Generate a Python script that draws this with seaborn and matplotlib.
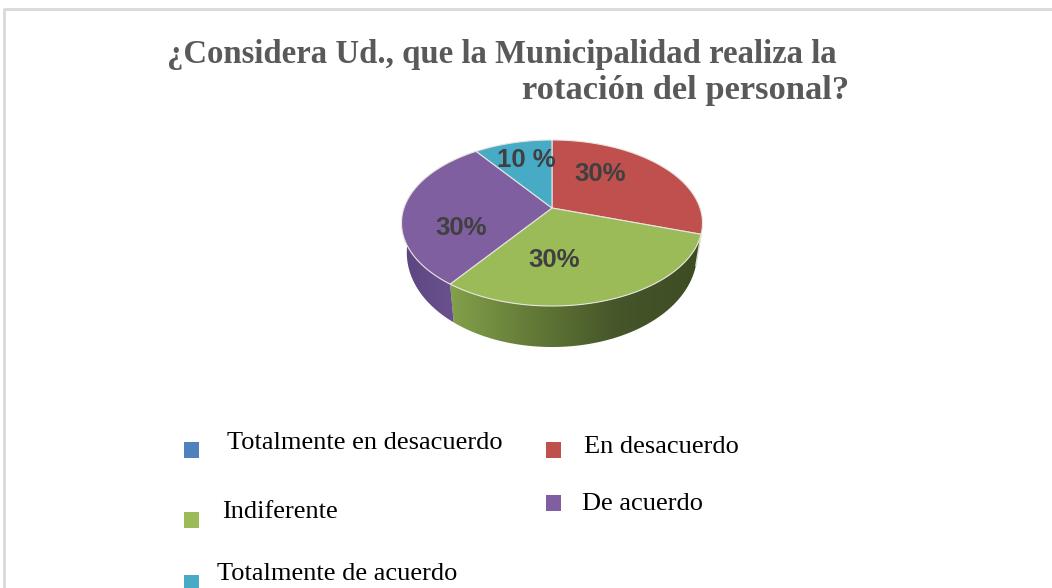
import numpy as np
import matplotlib
matplotlib.use('Agg')
import matplotlib.pyplot as plt
import seaborn as sns
from matplotlib.colors import LinearSegmentedColormap
from matplotlib.patches import Polygon, Rectangle

categories = ['Totalmente en desacuerdo', 'En desacuerdo', 'Indiferente', 'De acuerdo', 'Totalmente de acuerdo']
values = [0, 30, 30, 30, 10]
pct_labels = ['', '30%', '30%', '30%', '10 %']
title_lines = ['¿Considera Ud., que la Municipalidad realiza la', 'rotación del personal?']

colors = sns.color_palette(['#4f81bd', '#bf504d', '#9bbb59', '#7f5f9f', '#47abc6'])

# pixel layout, the reference places these by hand
CX, CY = 552, 208
label_xy = [None, (600, 174), (554, 260), (461, 228), (526, 160)]
swatch_xy = [(184, 442), (546, 442), (184, 512), (546, 495), (184, 575)]
text_xy = [(227, 443), (584, 447), (222, 512), (582, 504), (217, 574)]

sns.set_theme(style='white')
plt.rcParams['font.family'] = ['Liberation Serif', 'DejaVu Sans']


def project(theta, scale=1.0, wall=False):
    # clock angle in pie coords -> tilted disc in pixels, near side bigger
    x = np.cos(theta)
    y = np.sin(theta)
    den = 1 + 0.1807 * y
    drop = 27 + 14 * np.clip(-y, 0, 1) if wall else 0
    return CX + scale * 148 * x / den, CY + drop - 80.3 * y / den


fig = plt.figure(figsize=(10.52, 5.88), dpi=100)
ax = fig.add_axes([0, 0, 1, 1])
wedges, _ = ax.pie(values, startangle=90, counterclock=False)
angles = [(w.theta1, w.theta2) for w in wedges]
for w in wedges:
    w.remove()
ax.set_aspect('auto')
ax.axis('off')


def arc(i):
    return np.radians(np.linspace(angles[i][0], angles[i][1], 240))


def side_wall(i, stops):
    t = arc(i)
    x1, y1 = project(t)
    x2, y2 = project(t, scale=0.965, wall=True)
    pts = np.column_stack([np.r_[x1, x2[::-1]], np.r_[y1, y2[::-1]]])
    poly = Polygon(pts, closed=True, facecolor='none', edgecolor='none', transform=ax.transData)
    ax.add_patch(poly)
    cmap = LinearSegmentedColormap.from_list('wall', stops)
    img = ax.imshow(np.linspace(0, 1, 256).reshape(1, -1), cmap=cmap, aspect='auto',
                    extent=(pts[:, 0].min(), pts[:, 0].max(), pts[:, 1].max(), pts[:, 1].min()), zorder=2)
    img.set_clip_path(poly)


side_wall(2, [(0, '#83a04a'), (0.3, '#667d39'), (0.65, '#46572a'), (1, '#3d4b24')])
side_wall(3, [(0, '#5b4680'), (1, '#725796')])

# front seam between the two side walls
seam = np.radians(np.array([angles[2][1]]))
sx, sy = project(seam)
bx, by = project(seam, scale=0.965, wall=True)
ax.plot([sx[0], bx[0]], [sy[0], by[0]], color='#d9dfc8', lw=1, zorder=3)

# top face
for i in range(len(values)):
    if values[i] == 0:
        continue
    x, y = project(arc(i))
    pts = np.column_stack([np.r_[CX, x], np.r_[CY, y]])
    ax.add_patch(Polygon(pts, closed=True, facecolor=colors[i], edgecolor='#e8e4e0', lw=0.8, zorder=4))

for i in range(len(values)):
    if label_xy[i] is not None:
        ax.text(label_xy[i][0], label_xy[i][1], pct_labels[i], family='Liberation Sans', fontweight='bold',
                fontsize=18.5, color='#404040', ha='center', va='center', zorder=5)

ax.text(167, 55, title_lines[0], fontsize=23.6, fontweight='bold', color='#595959', ha='left', va='center')
ax.text(522, 91, title_lines[1], fontsize=24.8, fontweight='bold', color='#595959', ha='left', va='center')

for i in range(len(categories)):
    ax.add_patch(Rectangle(swatch_xy[i], 15, 16, facecolor=colors[i], edgecolor='none'))
    ax.text(text_xy[i][0], text_xy[i][1], categories[i], fontsize=19, color='black', ha='left', va='center')

# chart frame, only top and left show in the reference
ax.plot([4, 4, 1052], [588, 9, 9], color='#d9d9d9', lw=2, zorder=1)

ax.set_xlim(0, 1052)
ax.set_ylim(588, 0)

fig.savefig('out.png', dpi=100, facecolor='white')
